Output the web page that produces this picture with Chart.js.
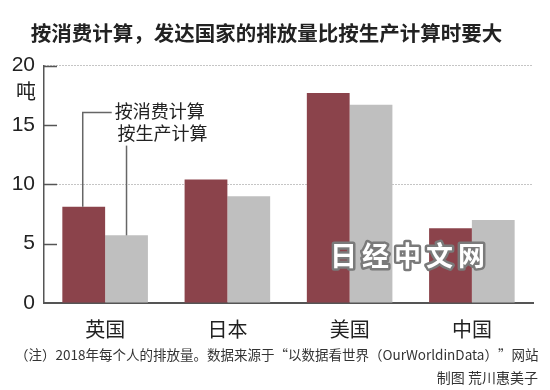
<!DOCTYPE html>
<html>
<head>
<meta charset="utf-8">
<script src="https://cdn.jsdelivr.net/npm/chart.js@4"></script>
<style>
    body { margin: 0; background: #fff; }
    #wrap { width: 550px; height: 390px; }
</style>
</head>
<body>
<div id="wrap"><canvas id="grafico" width="550" height="390"></canvas></div>
<script>
// Dados (toneladas por pessoa, 2018)
const paises = ["英国", "日本", "美国", "中国"];
const consumo = [8.1, 10.4, 17.7, 6.3];
const producao = [5.7, 9.0, 16.7, 7.0];
const ticksY = [0, 5, 10, 15, 20];

const fonteCJK = "'Noto Sans CJK SC', 'Noto Sans', sans-serif";
const fonteNum = "'Liberation Sans', Arial, sans-serif";

// Plugin para os textos e linhas extras (legenda com linhas, notas, marca d'água)
const extras = {
    id: "extras",
    afterDraw(chart) {
        const ctx = chart.ctx;
        const y = chart.scales.y;
        const area = chart.chartArea;

        ctx.save();
        // marcas internas do eixo Y
        ctx.strokeStyle = "#555";
        ctx.lineWidth = 1.5;
        ticksY.forEach(v => {
            if (v === 0) return;
            const py = Math.round(y.getPixelForValue(v)) + 0.5;
            ctx.beginPath();
            ctx.moveTo(area.left, py);
            ctx.lineTo(area.left + 13, py);
            ctx.stroke();
        });

        // unidade
        ctx.fillStyle = "#222";
        ctx.font = "20px " + fonteCJK;
        ctx.textAlign = "right";
        ctx.textBaseline = "middle";
        ctx.fillText("吨", 36, y.getPixelForValue(20) + 26);

        // legenda com linhas de chamada
        const barraC = chart.getDatasetMeta(0).data[0];
        const barraP = chart.getDatasetMeta(1).data[0];
        ctx.strokeStyle = "#666";
        ctx.lineWidth = 1.5;
        const yC = y.getPixelForValue(20) + 47;
        ctx.beginPath();
        ctx.moveTo(barraC.x - 1, barraC.y);
        ctx.lineTo(barraC.x - 1, yC);
        ctx.lineTo(barraC.x + 28, yC);
        ctx.stroke();
        ctx.beginPath();
        ctx.moveTo(barraP.x, barraP.y);
        ctx.lineTo(barraP.x, yC + 33);
        ctx.stroke();

        ctx.font = "18px " + fonteCJK;
        ctx.textAlign = "left";
        ctx.fillStyle = "#222";
        ctx.fillText("按消费计算", barraC.x + 31, yC - 1);
        ctx.fillText("按生产计算", barraP.x - 9, yC + 21);

        // marca d'água
        ctx.font = "bold 27px " + fonteCJK;
        ctx.letterSpacing = "5px";
        ctx.textAlign = "center";
        ctx.lineJoin = "round";
        ctx.strokeStyle = "#7a7a7a";
        ctx.lineWidth = 5;
        ctx.strokeText("日经中文网", 410, 256);
        ctx.fillStyle = "#fff";
        ctx.fillText("日经中文网", 410, 256);
        ctx.letterSpacing = "0px";

        // notas
        ctx.fillStyle = "#333";
        ctx.font = "13.5px " + fonteCJK;
        ctx.textAlign = "left";
        ctx.fillText("（注）2018年每个人的排放量。数据来源于“以数据看世界（OurWorldinData）”网站", 15, 355);
        ctx.textAlign = "right";
        ctx.font = "14px " + fonteCJK;
        ctx.fillText("制图 荒川惠美子", 538, 378);
        ctx.restore();
    }
};

new Chart(document.getElementById("grafico"), {
    type: "bar",
    data: {
        labels: paises,
        datasets: [{
            label: "按消费计算",
            data: consumo,
            backgroundColor: "#8b434b",
        }, {
            label: "按生产计算",
            data: producao,
            backgroundColor: "#bfbfbf",
        }],
    },
    options: {
        responsive: false,
        animation: false,
        categoryPercentage: 0.7,
        barPercentage: 1.0,
        layout: {
            padding: { left: 0, right: 17, top: 0, bottom: 0 },
        },
        plugins: {
            legend: { display: false },
            tooltip: { enabled: false },
            title: {
                display: true,
                text: "按消费计算，发达国家的排放量比按生产计算时要大",
                color: "#222",
                font: { family: fonteCJK, size: 20.5, weight: "bold", lineHeight: 1.2 },
                padding: { top: 21, bottom: 20 },
            },
        },
        scales: {
            x: {
                grid: { display: false },
                border: { display: true, color: "#555", width: 2 },
                ticks: {
                    color: "#222",
                    padding: 6,
                    font: { family: fonteCJK, size: 20 },
                },
                afterFit(scale) { scale.height = 87; },
            },
            y: {
                min: 0,
                max: 20,
                ticks: {
                    stepSize: 5,
                    color: "#222",
                    padding: 9,
                    font: { family: fonteNum, size: 21 },
                },
                grid: {
                    drawTicks: false,
                    color: c => (c.tick.value === 10 || c.tick.value === 20) ? "#8a8a8a" : "rgba(0,0,0,0)",
                    lineWidth: 1,
                },
                border: { display: true, color: "#555", width: 1.5, dash: [1, 2] },
                afterFit(scale) { scale.width = 44; },
            },
        },
    },
    plugins: [extras],
});
</script>
</body>
</html>
